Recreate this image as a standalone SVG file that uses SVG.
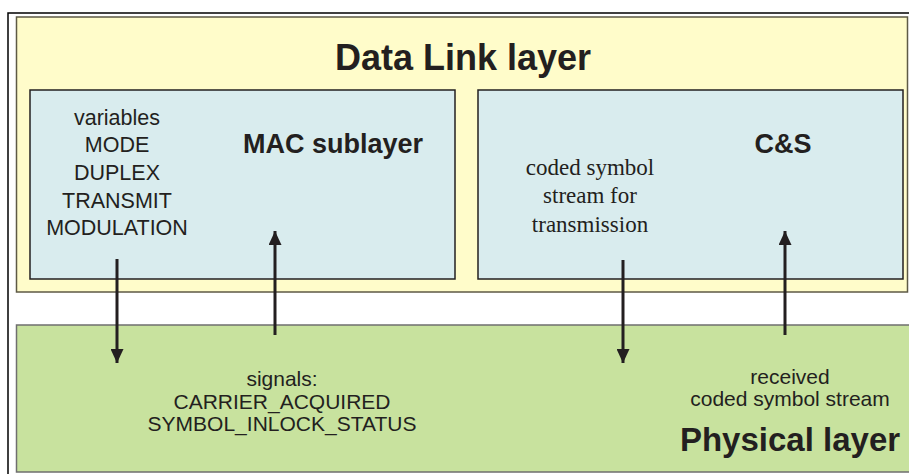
<svg xmlns="http://www.w3.org/2000/svg" width="909" height="474" viewBox="0 0 909 474">
<defs>
<marker id="ah" viewBox="0 0 14 13" refX="14" refY="6.5" markerWidth="14" markerHeight="13" markerUnits="userSpaceOnUse" orient="auto">
<path d="M0,0 L14,6.5 L0,13 Z" fill="#231f20"/>
</marker>
<style>
.t{font-family:"Liberation Sans",Arial,Helvetica,sans-serif;fill:#231f20;text-anchor:middle}
.b{font-weight:bold}
.s{font-family:"Liberation Serif","Times New Roman",serif;fill:#231f20;text-anchor:middle}
.arr{stroke:#231f20;stroke-width:3;fill:none;marker-end:url(#ah)}
</style>
</defs>
<rect x="0" y="0" width="909" height="474" fill="#ffffff"/>
<g id="frame">
<path d="M8,474 L8,13 L909,13" fill="none" stroke="#000" stroke-width="1.5"/>
</g>
<g id="datalink">
<rect x="16.5" y="17" width="891" height="275" fill="#fffcca" stroke="#5e5a45" stroke-width="1.5"/>
<text class="t b" x="463" y="70" font-size="36">Data Link layer</text>
</g>
<g id="mac">
<rect x="30" y="90" width="425" height="189" fill="#d9ecee" stroke="#231f20" stroke-width="1.5"/>
<text class="t b" x="333" y="153" font-size="27">MAC sublayer</text>
<g class="t" font-size="21.5">
<text x="117" y="125">variables</text>
<text x="117" y="152">MODE</text>
<text x="117" y="180">DUPLEX</text>
<text x="117" y="208">TRANSMIT</text>
<text x="117" y="235">MODULATION</text>
</g>
</g>
<g id="cs">
<rect x="478" y="90" width="425" height="189" fill="#d9ecee" stroke="#231f20" stroke-width="1.5"/>
<text class="t b" x="783" y="153" font-size="27">C&amp;S</text>
<g class="s" font-size="23">
<text x="590" y="175">coded symbol</text>
<text x="590" y="203">stream for</text>
<text x="590" y="232">transmission</text>
</g>
</g>
<g id="physical">
<path d="M912,325 L16.5,325 L16.5,472 L912,472" fill="#c8e29e" stroke="#6f6f6f" stroke-width="1.5"/>
<g class="t" font-size="21">
<text x="282" y="386">signals:</text>
<text x="282" y="409">CARRIER_ACQUIRED</text>
<text x="282" y="431">SYMBOL_INLOCK_STATUS</text>
<text x="790" y="384">received</text>
<text x="790" y="406">coded symbol stream</text>
</g>
<text class="t b" x="790" y="451" font-size="33">Physical layer</text>
</g>
<g id="connectors">
<line class="arr" x1="117" y1="259" x2="117" y2="363"/>
<line class="arr" x1="275" y1="335" x2="275" y2="231"/>
<line class="arr" x1="623" y1="260" x2="623" y2="363"/>
<line class="arr" x1="785" y1="335" x2="785" y2="231"/>
</g>
</svg>
